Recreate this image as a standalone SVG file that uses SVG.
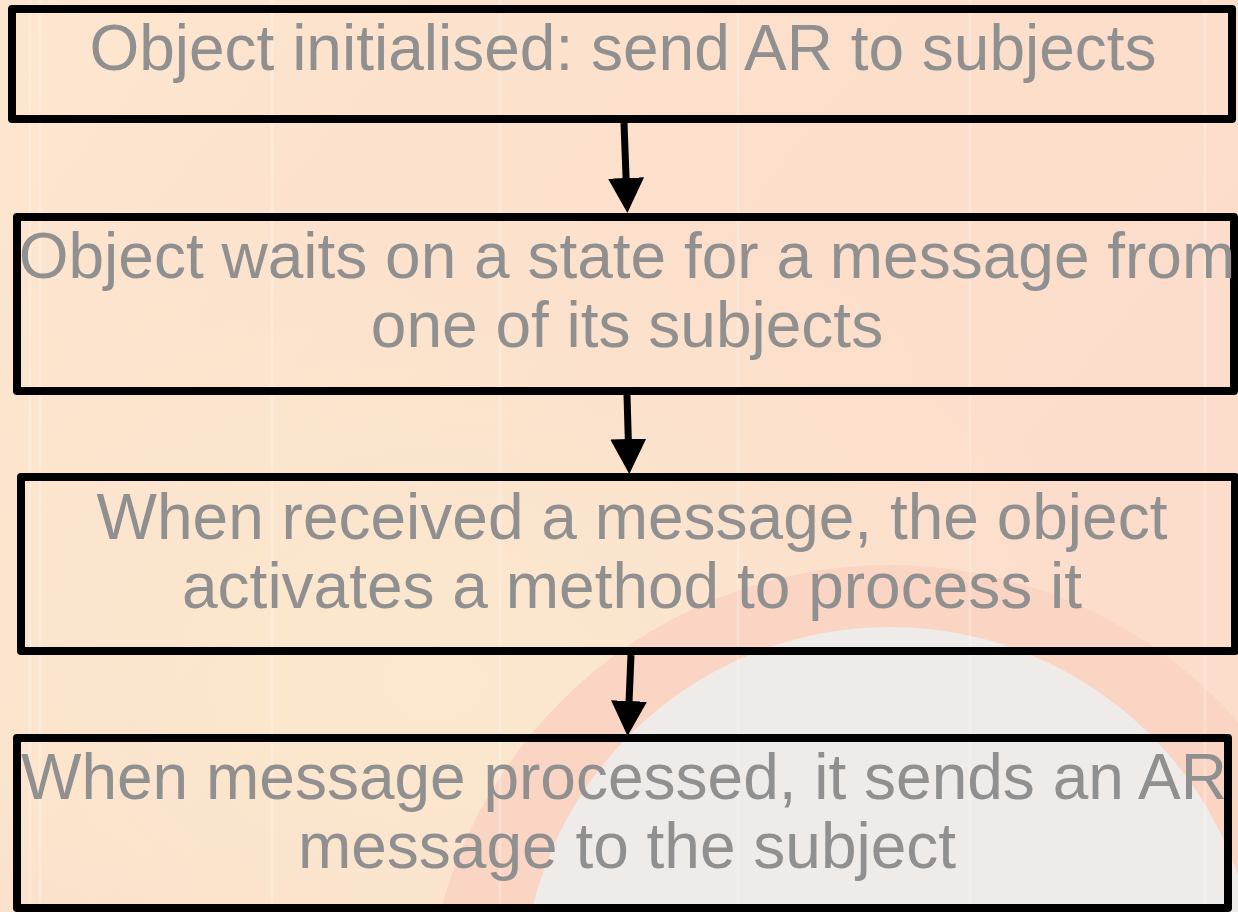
<svg xmlns="http://www.w3.org/2000/svg" width="1238" height="912" viewBox="0 0 1238 912">
  <defs>
    <linearGradient id="bgBase" x1="0" y1="0" x2="1" y2="0.6">
      <stop offset="0" stop-color="#fde6cf"/>
      <stop offset="0.55" stop-color="#fcdfcb"/>
      <stop offset="1" stop-color="#fcdccb"/>
    </linearGradient>
    <radialGradient id="warmGlow" cx="0.35" cy="0.75" r="0.55">
      <stop offset="0" stop-color="#fbe9cf" stop-opacity="0.9"/>
      <stop offset="1" stop-color="#fbe9cf" stop-opacity="0"/>
    </radialGradient>
    <marker id="arrowHead" viewBox="0 0 35 36" refX="25" refY="18" markerWidth="35" markerHeight="36" markerUnits="userSpaceOnUse" orient="auto">
      <path d="M0,0 L35,18 L0,36 Z" fill="#000"/>
    </marker>
    <style>
      .box { fill: none; stroke: #000; stroke-width: 8; stroke-linejoin: round; }
      .lbl { font-family: "Liberation Sans", Arial, sans-serif; font-size: 64px; fill: #909090; text-anchor: middle; }
      .link { stroke: #000; stroke-width: 7; fill: none; marker-end: url(#arrowHead); }
      .stripe { stroke: #ffffff; stroke-opacity: 0.22; stroke-width: 3; }
    </style>
  </defs>

  <!-- background -->
  <g id="background">
    <rect x="0" y="0" width="1238" height="912" fill="url(#bgBase)"/>
    <rect x="0" y="0" width="1238" height="912" fill="url(#warmGlow)"/>
    <circle cx="890" cy="1030" r="465" fill="#fbd5c4"/>
    <circle cx="890" cy="995" r="368" fill="#efebe8"/>
    <line class="stripe" x1="30" y1="0" x2="30" y2="912"/>
    <line class="stripe" x1="40" y1="0" x2="40" y2="912"/>
    <line class="stripe" x1="272" y1="0" x2="272" y2="912"/>
    <line class="stripe" x1="500" y1="0" x2="500" y2="912"/>
    <line class="stripe" x1="738" y1="0" x2="738" y2="912"/>
    <line class="stripe" x1="970" y1="0" x2="970" y2="912"/>
    <line class="stripe" x1="1205" y1="0" x2="1205" y2="912"/>
  </g>

  <!-- connectors -->
  <g id="connectors">
    <line class="link" x1="624" y1="123" x2="627" y2="203"/>
    <line class="link" x1="627" y1="395" x2="629" y2="464"/>
    <line class="link" x1="631" y1="655" x2="628" y2="726"/>
  </g>

  <g id="node-init">
    <rect class="box" x="12" y="9" width="1220" height="110"/>
    <text class="lbl" x="623" y="70">Object initialised: send AR to subjects</text>
  </g>

  <g id="node-wait">
    <rect class="box" x="17" y="217" width="1217" height="174"/>
    <text class="lbl" x="627" y="278">Object waits on a state for a message from</text>
    <text class="lbl" x="627" y="347">one of its subjects</text>
  </g>

  <g id="node-process">
    <rect class="box" x="21" y="477" width="1214" height="174"/>
    <text class="lbl" x="632" y="539">When received a message, the object</text>
    <text class="lbl" x="632" y="608">activates a method to process it</text>
  </g>

  <g id="node-reply">
    <rect class="box" x="17" y="738" width="1211" height="170"/>
    <text class="lbl" x="624" y="799">When message processed, it sends an AR</text>
    <text class="lbl" x="627" y="868">message to the subject</text>
  </g>
</svg>
